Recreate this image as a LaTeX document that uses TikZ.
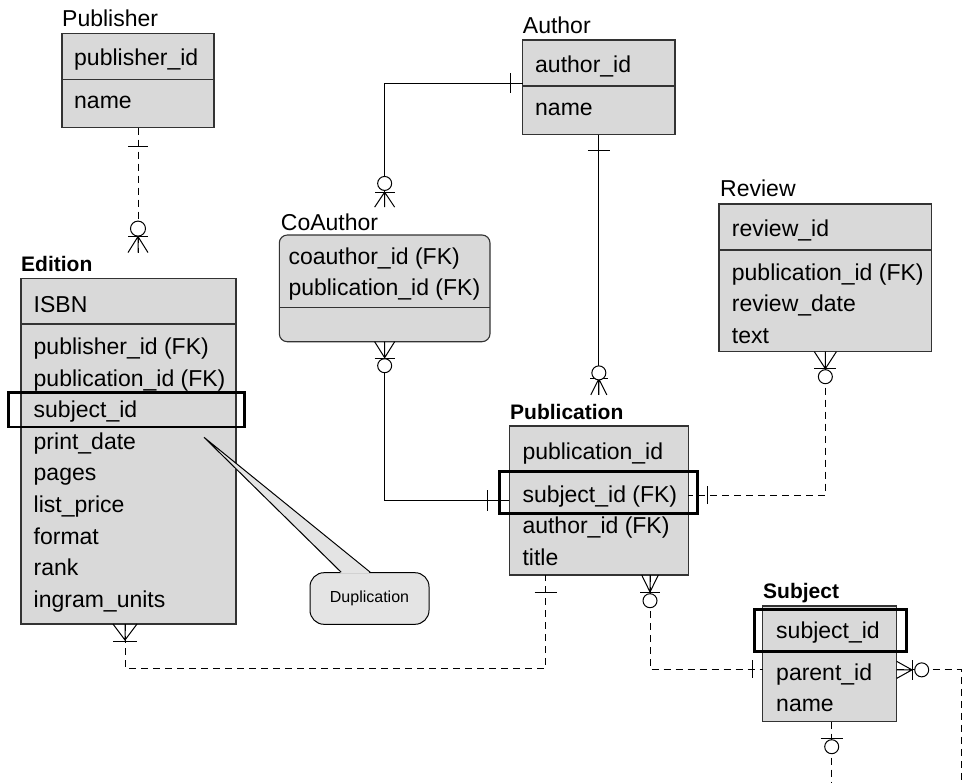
\documentclass[tikz,border=0pt]{standalone}
\usepackage{fontspec}
\setmainfont{Liberation Sans}
\usetikzlibrary{calc}
\definecolor{efill}{HTML}{D9D9D9}
\definecolor{eline}{HTML}{333333}
\definecolor{cfill}{HTML}{E4E4E4}
\tikzset{
  entity/.style={draw=eline, line width=1.1pt, fill=efill, anchor=north west, inner sep=0pt, outer sep=0pt},
  divider/.style={draw=eline, line width=1.1pt},
  row/.style={anchor=base west, inner sep=0pt, font=\fontsize{23}{28}\selectfont},
  lbl/.style={anchor=base west, inner sep=0pt, font=\fontsize{23}{28}\selectfont},
  blbl/.style={anchor=base west, inner sep=0pt, font=\fontsize{21}{26}\selectfont\bfseries},
  hl/.style={draw=black, line width=2.6pt},
  conn/.style={draw=black, line width=1pt},
  dconn/.style={conn, dash pattern=on 7pt off 5pt},
}
% symbols: #1 point, #2 angle (away from entity)
\newcommand\ercrow[4]{\begin{scope}[shift={(#1)},rotate=#2]\draw[conn] (0pt,#3pt) -- (#4pt,0pt) -- (0pt,-#3pt) (0pt,0pt) -- (#4pt,0pt);\end{scope}}
\newcommand\erbar[4]{\begin{scope}[shift={(#1)},rotate=#2]\draw[conn] (#3pt,-#4pt) -- (#3pt,#4pt);\end{scope}}
\newcommand\ercirc[4]{\begin{scope}[shift={(#1)},rotate=#2]\draw[conn,fill=white] (#3pt,0pt) circle[radius=#4pt];\end{scope}}
\begin{document}
\begin{tikzpicture}[x=1pt,y=-1pt]
\useasboundingbox (0,0) rectangle (965,782);

% ---------- entities ----------
% Publisher
\node[lbl] (publbl) at (62,26) {Publisher};
\node[entity, minimum width=152pt, minimum height=94.2pt] (pub) at (62,33.3) {};
\draw[divider] ($(pub.north west)+(0pt,-46.2pt)$) -- ($(pub.north east)+(0pt,-46.2pt)$);
\node[row] (pub-1) at (74,65.7) {publisher\_id};
\node[row] (pub-2) at (74,108.3) {name};

% Author
\node[lbl] (authlbl) at (522.7,33.3) {Author};
\node[entity, minimum width=152.3pt, minimum height=94.7pt] (auth) at (522.7,40) {};
\draw[divider] ($(auth.north west)+(0pt,-46pt)$) -- ($(auth.north east)+(0pt,-46pt)$);
\node[row] (auth-1) at (535,72.7) {author\_id};
\node[row] (auth-2) at (535,115) {name};

% CoAuthor
\node[lbl] (coalbl) at (280.7,230) {CoAuthor};
\node[entity, rounded corners=8pt, minimum width=210.7pt, minimum height=106.7pt] (coa) at (279.3,235) {};
\draw[divider] ($(coa.north west)+(0pt,-72.3pt)$) -- ($(coa.north east)+(0pt,-72.3pt)$);
\node[row] (coa-1) at (288.3,264) {coauthor\_id (FK)};
\node[row] (coa-2) at (288.3,295) {publication\_id (FK)};

% Review
\node[lbl] (revlbl) at (720,196) {Review};
\node[entity, minimum width=212.7pt, minimum height=147.7pt] (rev) at (719,204) {};
\draw[divider] ($(rev.north west)+(0pt,-46pt)$) -- ($(rev.north east)+(0pt,-46pt)$);
\node[row] (rev-1) at (731.7,236) {review\_id};
\foreach \t [count=\i] in {publication\_id (FK), review\_date, text}
  \node[row] (rev-r\i) at (731.7,{280+31.6*(\i-1)}) {\t};

% Edition
\node[blbl] (edlbl) at (21,271) {Edition};
\node[entity, minimum width=215pt, minimum height=345.7pt] (ed) at (21,278.3) {};
\draw[divider] ($(ed.north west)+(0pt,-45.7pt)$) -- ($(ed.north east)+(0pt,-45.7pt)$);
\node[row] (ed-0) at (33.5,312) {ISBN};
\foreach \t [count=\i] in {publisher\_id (FK), publication\_id (FK), subject\_id, print\_date, pages, list\_price, format, rank, ingram\_units}
  \node[row] (ed-\i) at (33.5,{354.5+31.6*(\i-1)}) {\t};

% Publication
\node[blbl] (publlbl) at (510,419.3) {Publication};
\node[entity, minimum width=179pt, minimum height=149pt] (publ) at (509.3,426) {};
\draw[divider] ($(publ.north west)+(0pt,-46pt)$) -- ($(publ.north east)+(0pt,-46pt)$);
\node[row] (publ-0) at (522.3,459.3) {publication\_id};
\foreach \t [count=\i] in {subject\_id (FK), author\_id (FK), title}
  \node[row] (publ-\i) at (522.3,{502+31.6*(\i-1)}) {\t};

% Subject
\node[blbl] (subjlbl) at (763,598.3) {Subject};
\node[entity, minimum width=134pt, minimum height=115.7pt] (subj) at (762.7,606) {};
\draw[divider] ($(subj.north west)+(0pt,-46pt)$) -- ($(subj.north east)+(0pt,-46pt)$);
\node[row] (subj-0) at (776,638.3) {subject\_id};
\foreach \t [count=\i] in {parent\_id, name}
  \node[row] (subj-\i) at (776,{680+31.7*(\i-1)}) {\t};

% highlight boxes
\draw[hl] (8.3,392.7) rectangle (244.3,427);
\draw[hl] (499.3,471.7) rectangle (697.7,513.3);
\draw[hl] (754.3,609.3) rectangle (906.7,651.7);

% ---------- callout ----------
\node[draw=black, line width=1pt, fill=cfill, rounded corners=14pt, minimum width=119pt, minimum height=51.6pt, inner sep=0pt, font=\fontsize{16}{19}\selectfont] (dup) at (369.5,598.5) {Duplication};
\coordinate (duptip) at (204,437.3);
\fill[cfill] ($(dup.north west)+(31.7pt,-1.2pt)$) -- (duptip) -- ($(dup.north west)+(60.7pt,-1.2pt)$) -- cycle;
\draw[conn] ($(dup.north west)+(31.7pt,0pt)$) -- (duptip) -- ($(dup.north west)+(60.7pt,0pt)$);

% ---------- connectors ----------
% Publisher - Edition
\coordinate (c1a) at (pub.south);
\coordinate (c1b) at ($(pub.south |- edlbl.north)+(0pt,3pt)$);
\draw[dconn] (c1a) -- (c1b);
\erbar{c1a}{-90}{18.5}{10}
\ercrow{c1b}{90}{10}{16}\erbar{c1b}{90}{16}{10}\ercirc{c1b}{90}{24}{7.5}

% Author - CoAuthor
\coordinate (c2a) at ($(auth.north west)+(0pt,-43pt)$);
\coordinate (c2b) at ($(coa.north |- coalbl.north)+(0pt,6pt)$);
\draw[conn] (c2a) -| (c2b);
\erbar{c2a}{180}{12}{10}
\ercrow{c2b}{90}{10}{15}\erbar{c2b}{90}{15}{10}\ercirc{c2b}{90}{23.7}{7}

% Author - Publication
\coordinate (c3a) at (auth.south);
\coordinate (c3b) at ($(auth.south |- publlbl.north)+(0pt,9pt)$);
\draw[conn] (c3a) -- (c3b);
\erbar{c3a}{-90}{16}{11}
\ercrow{c3b}{90}{8}{16}\erbar{c3b}{90}{16}{9}\ercirc{c3b}{90}{22}{7}

% CoAuthor - Publication
\coordinate (c4a) at (coa.south);
\coordinate (c4b) at (publ.west);
\draw[conn] (c4a) |- (c4b);
\ercrow{c4a}{-90}{10}{16}\erbar{c4a}{-90}{17}{10}\ercirc{c4a}{-90}{24}{7}
\erbar{c4b}{180}{21.6}{10.5}

% Review - Publication
\coordinate (c5a) at (rev.south);
\coordinate (c5b) at ($(publ.east)+(0pt,5.5pt)$);
\draw[dconn] (c5a) |- (c5b);
\ercrow{c5a}{-90}{11}{17}\erbar{c5a}{-90}{17}{11}\ercirc{c5a}{-90}{25}{7}
\erbar{c5b}{0}{19}{9}

% Edition - Publication
\coordinate (c6a) at ($(ed.south west)+(104pt,0pt)$);
\coordinate (c6b) at ($(publ.south west)+(36.4pt,0pt)$);
\coordinate (c6m) at ($(c6a)+(0pt,-44pt)$);
\draw[dconn] (c6a) -- (c6m) -| (c6b);
\ercrow{c6a}{-90}{12}{16}\erbar{c6a}{-90}{17}{12}
\erbar{c6b}{-90}{17}{11}

% Publication - Subject
\coordinate (c7a) at ($(publ.south west)+(140.7pt,0pt)$);
\coordinate (c7b) at ($(subj.west)+(0pt,-5.5pt)$);
\draw[dconn] (c7a) |- (c7b);
\ercrow{c7a}{-90}{8.3}{17}\erbar{c7a}{-90}{17}{10}\ercirc{c7a}{-90}{25.7}{7}
\erbar{c7b}{180}{10.5}{9}

% Subject - Subject (parent)
\coordinate (c8a) at ($(subj.east)+(0pt,-6pt)$);
\coordinate (c8r) at (961.7,782);
\coordinate (c8b) at ($(subj.south)+(2pt,0pt)$);
\coordinate (c8d) at (c8b |- c8r);
\draw[dconn] (c8a) -| (c8r);
\draw[dconn] (c8b) -- (c8d);
\ercrow{c8a}{0}{8.5}{15.3}\erbar{c8a}{0}{16}{10}\ercirc{c8a}{0}{25}{7}
\erbar{c8b}{-90}{17}{11}\ercirc{c8b}{-90}{25}{7}
\end{tikzpicture}
\end{document}
